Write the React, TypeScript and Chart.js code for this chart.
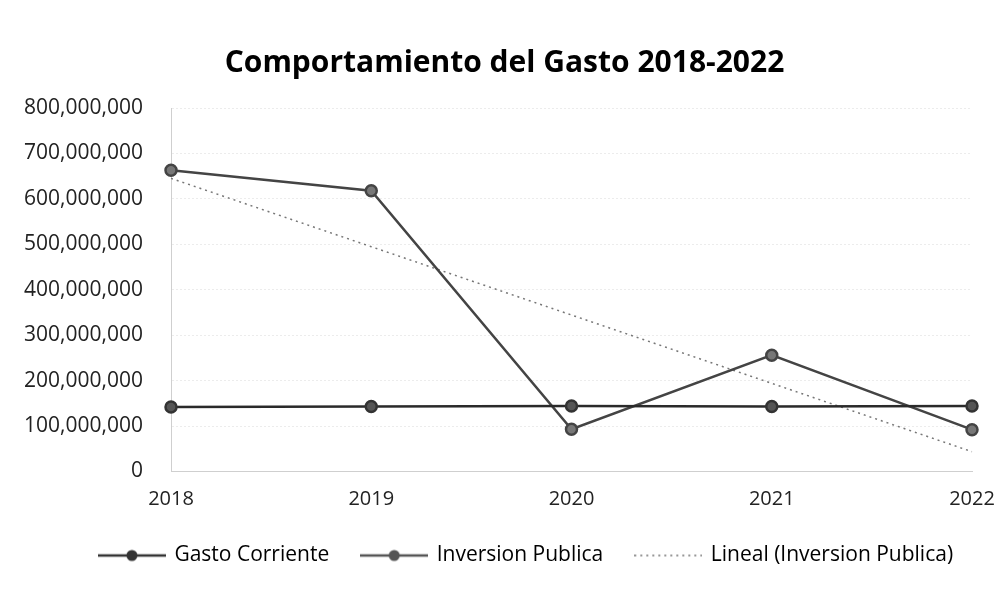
import React, { useEffect, useRef } from "react";
import { Chart, registerables } from "chart.js";

Chart.register(...registerables);

const TITLE = "Comportamiento del Gasto 2018-2022";
const years = ["2018", "2019", "2020", "2021", "2022"];
const gastoCorriente = [142000000, 143000000, 144000000, 143000000, 144000000];
const inversionPublica = [663000000, 618000000, 93000000, 256000000, 92000000];
const yTicks = [0, 100000000, 200000000, 300000000, 400000000, 500000000, 600000000, 700000000, 800000000];
const legendNames = ["Gasto Corriente", "Inversion Publica", "Lineal (Inversion Publica)"];

function linearTrend(vals: number[]): number[] {
  const n = vals.length;
  const mx = (n - 1) / 2;
  const my = vals.reduce((a, b) => a + b, 0) / n;
  let num = 0, den = 0;
  vals.forEach((v, i) => { num += (i - mx) * (v - my); den += (i - mx) * (i - mx); });
  const slope = num / den;
  return vals.map((_, i) => my + slope * (i - mx));
}

function makeMarker(color: string, dotted: boolean): HTMLCanvasElement {
  const c = document.createElement("canvas");
  c.width = 68;
  c.height = 14;
  const ctx = c.getContext("2d")!;
  ctx.strokeStyle = color;
  ctx.lineWidth = dotted ? 1.5 : 2.5;
  if (dotted) ctx.setLineDash([2, 4]);
  ctx.beginPath();
  ctx.moveTo(0, 7);
  ctx.lineTo(68, 7);
  ctx.stroke();
  if (!dotted) {
    ctx.fillStyle = color;
    ctx.beginPath();
    ctx.arc(34, 7, 5.5, 0, Math.PI * 2);
    ctx.fill();
  }
  return c;
}

const legendShift = {
  id: "legendShift",
  afterLayout(chart: any) {
    if (chart.legend) {
      chart.legend.left += 22;
      chart.legend.right += 22;
    }
  },
};

export default function App() {
  const ref = useRef<HTMLCanvasElement>(null);
  useEffect(() => {
    document.body.style.margin = "0";
    const trend = linearTrend(inversionPublica);
    const font = "'Open Sans', sans-serif";
    const markerColors = ["#333", "#555", "#777"];
    const chart = new Chart(ref.current!, {
      type: "line",
      data: {
        labels: years,
        datasets: [
          {
            label: legendNames[0],
            data: gastoCorriente,
            borderColor: "#2a2a2a",
            backgroundColor: "#3a3a3a",
            borderWidth: 2.5,
            pointRadius: 5.5,
            pointBackgroundColor: "#555",
            pointBorderColor: "#333",
          },
          {
            label: legendNames[1],
            data: inversionPublica,
            borderColor: "#444",
            backgroundColor: "#666",
            borderWidth: 2.5,
            pointRadius: 5.5,
            pointBackgroundColor: "#777",
            pointBorderColor: "#444",
          },
          {
            label: legendNames[2],
            data: trend,
            borderColor: "#777",
            borderWidth: 1.5,
            borderDash: [2, 4],
            pointRadius: 0,
          },
        ],
      },
      plugins: [legendShift],
      options: {
        animation: false,
        responsive: false,
        layout: { padding: { left: 15, right: 0, top: 37, bottom: 15 } },
        plugins: {
          title: {
            display: true,
            text: TITLE,
            color: "#000",
            font: { family: font, size: 30, weight: "bold" },
            padding: { top: 8, bottom: 27 },
          },
          legend: {
            position: "bottom",
            labels: {
              color: "#222",
              font: { family: font, size: 21 },
              usePointStyle: true,
              pointStyleWidth: 64,
              padding: 33,
              generateLabels: () =>
                legendNames.map((name, i) => ({
                  text: name,
                  pointStyle: makeMarker(markerColors[i], i === 2),
                  datasetIndex: i,
                  fillStyle: markerColors[i],
                  strokeStyle: markerColors[i],
                  lineWidth: 0,
                  hidden: false,
                })) as any,
            },
          },
          tooltip: { enabled: false },
        },
        scales: {
          x: {
            offset: false,
            grid: { display: false, drawTicks: false },
            border: { display: true, color: "#cfcfcf", dash: [2, 2] },
            ticks: { color: "#222", font: { family: font, size: 20 }, padding: 16 },
            afterFit: (scale: any) => {
              scale.paddingRight = 22;
              scale.paddingLeft = 0;
              scale.height = 40.5;
            },
          },
          y: {
            min: 0,
            max: 800000000,
            afterBuildTicks: (axis: any) => { axis.ticks = yTicks.map((v) => ({ value: v })); },
            afterFit: (scale: any) => { scale.width = 156; },
            grid: { color: "#ececec", drawTicks: false } as any,
            border: { display: true, color: "#cfcfcf", dash: [2, 2] },
            ticks: {
              color: "#222",
              font: { family: font, size: 21 },
              padding: 28,
              callback: (v: any) => Number(v).toLocaleString("en-US"),
            },
          },
        },
      },
    });
    return () => chart.destroy();
  }, []);
  return <canvas ref={ref} width={994} height={591} style={{ display: "block" }} />;
}
